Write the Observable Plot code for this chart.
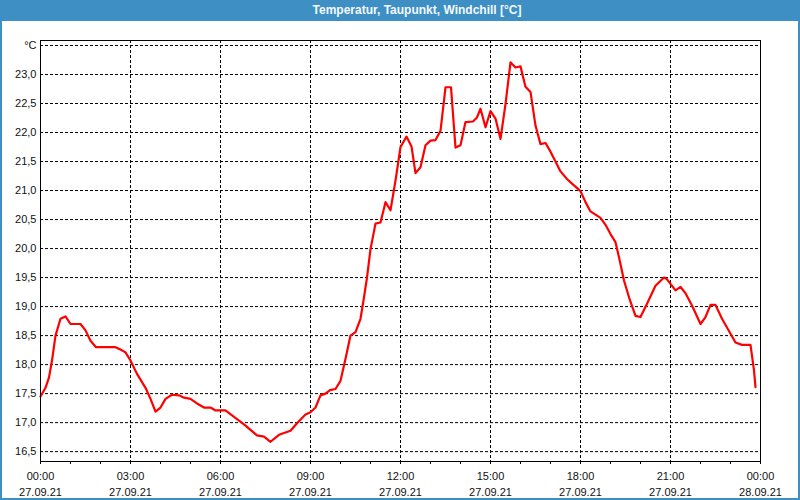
<!DOCTYPE html>
<html>
<head>
<meta charset="utf-8">
<script src="https://cdn.jsdelivr.net/npm/d3@7"></script>
<script src="https://cdn.jsdelivr.net/npm/@observablehq/plot@0.6"></script>
<style>
  html, body { margin: 0; padding: 0; background: #fff; }
  #wrap { position: relative; width: 800px; height: 500px; box-sizing: border-box;
          border-left: 2px solid #3d8fc4; border-right: 2px solid #3d8fc4; border-bottom: 2px solid #3d8fc4;
          background: #fff; font-family: "Liberation Sans", Arial, sans-serif; overflow: hidden; }
  #title { position: absolute; left: -2px; top: 0; width: 800px; height: 21px; background: #3d8fc4; }
  #title span { position: absolute; left: 417px; top: 3px; transform: translateX(-50%); white-space: nowrap;
          color: #f4f8fb; font-weight: bold; font-size: 12px; line-height: 14px; }
  .leg { position: absolute; top: 25px; transform: translateX(-50%); white-space: nowrap; font-size: 11px; line-height: 14px; }
  #chart { position: absolute; left: 0; top: 22px; }
</style>
</head>
<body>
<div id="wrap">
  <div id="title"><span>Temperatur, Taupunkt, Windchill [°C]</span></div>
  <div id="legend"></div>
  <div id="chart"></div>
</div>
<script>
// Series: minutes since 27.09.21 00:00 and temperature in °C
const minutes = [0,10,17,23,30,40,50,60,80,90,100,111,150,160,170,180,193,210,220,230,240,250,263,277,287,300,313,327,340,350,370,387,407,433,447,460,477,487,500,513,530,540,550,560,570,579,590,600,610,620,630,640,647,653,660,670,680,690,700,710,720,732,742,750,760,770,780,790,800,810,821,830,840,850,865,873,880,890,900,910,920,930,940,950,960,970,980,990,1000,1010,1020,1030,1040,1053,1063,1080,1090,1100,1120,1130,1140,1150,1157,1167,1177,1190,1200,1213,1230,1247,1253,1270,1280,1290,1303,1320,1330,1340,1350,1363,1373,1390,1403,1420,1427,1430];
const temps = [17.45,17.6,17.78,18.07,18.5,18.79,18.83,18.7,18.7,18.59,18.41,18.3,18.3,18.26,18.21,18.07,17.84,17.6,17.41,17.19,17.26,17.41,17.48,17.47,17.43,17.41,17.33,17.26,17.26,17.21,17.21,17.1,16.97,16.78,16.76,16.67,16.79,16.82,16.86,16.99,17.14,17.18,17.26,17.47,17.5,17.56,17.58,17.72,18.1,18.5,18.56,18.79,19.16,19.5,19.99,20.43,20.45,20.8,20.66,21.17,21.75,21.93,21.76,21.3,21.4,21.78,21.86,21.87,22.03,22.78,22.78,21.74,21.78,22.18,22.19,22.26,22.41,22.09,22.37,22.24,21.89,22.49,23.21,23.12,23.14,22.79,22.7,22.12,21.8,21.82,21.67,21.5,21.33,21.2,21.12,20.99,20.8,20.64,20.53,20.41,20.25,20.11,19.85,19.45,19.16,18.84,18.82,19.05,19.36,19.5,19.47,19.28,19.34,19.23,19.02,18.7,18.82,19.03,19.03,18.79,18.64,18.38,18.34,18.34,17.9,17.61];

// Axis ticks and labels
const xTicks = [0,180,360,540,720,900,1080,1260,1440];
const xTickTimes = ["00:00","03:00","06:00","09:00","12:00","15:00","18:00","21:00","00:00"];
const xTickDates = ["27.09.21","27.09.21","27.09.21","27.09.21","27.09.21","27.09.21","27.09.21","27.09.21","28.09.21"];
const yTicks = [16.5,17,17.5,18,18.5,19,19.5,20,20.5,21,21.5,22,22.5,23,23.5];
const yTickLabels = ["16,5","17,0","17,5","18,0","18,5","19,0","19,5","20,0","20,5","21,0","21,5","22,0","22,5","23,0","°C"];

// Legend
const legendNames = ["Temperatur","Taupunkt","Windchill"];
const legendColors = ["#ff1020","#2020e0","#20d020"];
const legendX = [147,399,652];

const leg = document.getElementById("legend");
legendNames.forEach((n,i) => {
  const s = document.createElement("div");
  s.className = "leg";
  s.style.left = (legendX[i] - 2) + "px";
  s.style.color = legendColors[i];
  s.textContent = n;
  leg.appendChild(s);
});

const data = minutes.map((m,i) => ({m, t: temps[i]}));
const hours = d3.range(0, 1441, 60);

const chart = Plot.plot({
  width: 796,
  height: 476,
  marginTop: 18,
  marginLeft: 38,
  marginRight: 38,
  marginBottom: 37,
  style: {fontFamily: "Liberation Sans, Arial, sans-serif", fontSize: "11px", color: "#111", background: "#fff"},
  x: {type: "linear", domain: [0, 1440], axis: null, label: null},
  y: {type: "linear", domain: [16.33, 23.586], axis: null, label: null},
  marks: [
    Plot.gridX(xTicks.slice(1, -1), {stroke: "#000", strokeOpacity: 1, strokeDasharray: "3,2", strokeWidth: 1}),
    Plot.gridY(yTicks, {stroke: "#000", strokeOpacity: 1, strokeDasharray: "3,2", strokeWidth: 1}),
    Plot.line(data, {x: "m", y: "t", stroke: "#ff0000", strokeWidth: 2.2, curve: "linear"}),
    Plot.frame({stroke: "#000", strokeWidth: 1}),
    Plot.axisX(hours, {anchor: "bottom", tickSize: 3, tickFormat: () => "", label: null, stroke: "#000"}),
    Plot.text(xTicks, {x: d => d, frameAnchor: "bottom", dy: 7, lineAnchor: "top", lineHeight: 1.45,
      text: (d, i) => xTickTimes[i] + "\n" + xTickDates[i], fill: "#111", fontSize: 11}),
    Plot.text(yTicks, {y: d => d, frameAnchor: "left", dx: -4, textAnchor: "end",
      text: (d, i) => yTickLabels[i], fill: "#111", fontSize: 11})
  ]
});
document.getElementById("chart").appendChild(chart);
</script>
</body>
</html>
